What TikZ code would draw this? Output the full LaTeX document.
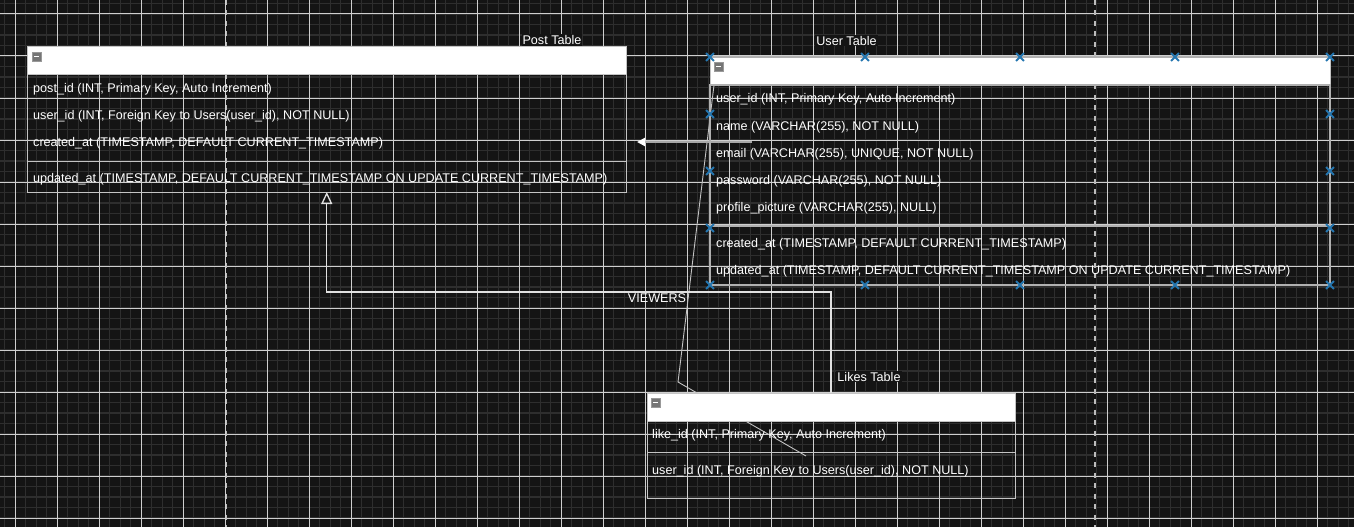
\documentclass[tikz,border=0pt]{standalone}
\usepackage{fontspec}
\setmainfont{Liberation Sans}
\usetikzlibrary{arrows.meta,shapes.misc,calc}
\definecolor{bg}{HTML}{141414}
\definecolor{minorc}{HTML}{2E2E2E}
\definecolor{majorc}{HTML}{CFCFCF}
\definecolor{pagec}{HTML}{BDBDBD}
\definecolor{tblc}{HTML}{C4C4C4}
\definecolor{tblu}{HTML}{B0B0B0}
\definecolor{bluec}{HTML}{2476B0}
\definecolor{arrc}{HTML}{A8A8A8}
\definecolor{iconc}{HTML}{767676}
\tikzset{
  minorline/.style={draw=minorc,line width=1.2pt},
  majorline/.style={draw=majorc,line width=1pt},
  pageline/.style={draw=pagec,line width=1.5pt,dash pattern=on 5pt off 5.5pt},
  hdr/.style={draw=tblc,fill=white,line width=1pt,anchor=north west,inner sep=0pt,outer sep=0pt},
  tbody/.style={draw=tblc,line width=1pt,anchor=north west,inner sep=0pt,outer sep=0pt},
  tsep/.style={draw=tblc,line width=1pt},
  ubody/.style={draw=tblu,line width=1.6pt,anchor=north west,inner sep=0pt,outer sep=0pt},
  usep/.style={draw=tblu,line width=1.6pt},
  rowtext/.style={anchor=west,text=white,inner sep=0pt,font=\fontsize{12.6}{15}\selectfont,text height=9.5pt,text depth=2.6pt},
  tlabel/.style={text=white,fill=bg,inner sep=1pt,font=\fontsize{12.6}{15}\selectfont},
  elabel/.style={text=white,inner sep=0pt,font=\fontsize{12.6}{15}\selectfont},
  icon/.style={draw=gray!80,fill=iconc,minimum size=9pt,inner sep=0pt,line width=0.6pt},
  bmark/.style={cross out,draw=bluec,line width=1.8pt,minimum size=6pt,inner sep=0pt},
  thinline/.style={draw=tblc,line width=0.9pt},
  relarrow/.style={draw=arrc,line width=2pt,-{Triangle[width=8pt,length=8pt,color=white]}},
  viewer/.style={draw=white!88!black,line width=1.3pt,-{Triangle[open,width=11pt,length=12pt]}}
}
\begin{document}
\begin{tikzpicture}[x=1pt,y=-1pt]
\useasboundingbox (0,0) rectangle (1354,527);
\begin{scope}
\clip (0,0) rectangle (1354,527);
\fill[bg] (0,0) rectangle (1354,527);
\foreach \i in {0,...,128} \draw[minorline] ({4.8+10.5*\i},0) -- ({4.8+10.5*\i},527);
\foreach \j in {0,...,50} \draw[minorline] (0,{3.5+10.5*\j}) -- (1354,{3.5+10.5*\j});
\foreach \i in {0,...,32} \draw[majorline] ({15.3+42*\i},0) -- ({15.3+42*\i},527);
\foreach \j in {0,...,12} \draw[majorline] (0,{14+42*\j}) -- (1354,{14+42*\j});
\draw[pageline] (226.7,0) -- (226.7,527);
\draw[pageline] (1095,0) -- (1095,527);
\end{scope}

% slanted thin line (behind tables)
\coordinate (s1) at (714,85);
\coordinate (s2) at (678,382);
\coordinate (s3) at (806,456);
\draw[thinline] (s1) -- (s2) -- (s3);

% ---------- Post Table ----------
\node[hdr,minimum width=598.5pt,minimum height=27pt] (postH) at (27.5,47) {};
\node[tbody,minimum width=598.5pt,minimum height=118pt] (postB) at (27.5,74) {};
\draw[tsep] (27.5,161) -- (626,161);
\node[icon] (postI) at (36.5,56.5) {};
\draw[white,line width=1.2pt] ($(postI.center)+(-2.5,0)$) -- ($(postI.center)+(2.5,0)$);
\node[tlabel] (postL) at (552,40) {Post Table};
\node[rowtext] (p1) at (33,89.5) {post\_id (INT, Primary Key, Auto Increment)};
\node[rowtext] (p2) at (33,116.5) {user\_id (INT, Foreign Key to Users(user\_id), NOT NULL)};
\node[rowtext] (p3) at (33,143.5) {created\_at (TIMESTAMP, DEFAULT CURRENT\_TIMESTAMP)};
\node[rowtext] (p4) at (33,179) {updated\_at (TIMESTAMP, DEFAULT CURRENT\_TIMESTAMP ON UPDATE CURRENT\_TIMESTAMP)};

% ---------- connectors ----------
\coordinate (ustart) at (752,142);
\coordinate (ptip) at ($(postB.east |- ustart)+(11,0)$);
\draw[relarrow] (ustart) -- (ptip);

% ---------- User Table ----------
\node[hdr,minimum width=620pt,minimum height=28pt] (userH) at (710,57) {};
\node[ubody,minimum width=620pt,minimum height=200pt] (userB) at (710,85) {};
\draw[usep] (710,57) -- (1330,57);
\draw[usep] (710,226) -- (1330,226);
\node[icon] (userI) at (718.3,66.7) {};
\draw[white,line width=1.2pt] ($(userI.center)+(-2.5,0)$) -- ($(userI.center)+(2.5,0)$);
\node[tlabel] (userL) at (846.5,40.5) {User Table};
\node[rowtext] (u1) at (716,99.5) {user\_id (INT, Primary Key, Auto Increment)};
\node[rowtext] (u2) at (716,127) {name (VARCHAR(255), NOT NULL)};
\node[rowtext] (u3) at (716,154) {email (VARCHAR(255), UNIQUE, NOT NULL)};
\node[rowtext] (u4) at (716,181) {password (VARCHAR(255), NOT NULL)};
\node[rowtext] (u5) at (716,208) {profile\_picture (VARCHAR(255), NULL)};
\node[rowtext] (u6) at (716,244) {created\_at (TIMESTAMP, DEFAULT CURRENT\_TIMESTAMP)};
\node[rowtext] (u7) at (716,271) {updated\_at (TIMESTAMP, DEFAULT CURRENT\_TIMESTAMP ON UPDATE CURRENT\_TIMESTAMP)};
\foreach \k [count=\n] in {0,...,4} {
  \node[bmark] (mt\n) at ({710+155*\k},57) {};
  \node[bmark] (mb\n) at ({710+155*\k},285) {};
}
\foreach \yy [count=\n] in {114,171,228} {
  \node[bmark] (ml\n) at (710,\yy) {};
  \node[bmark] (mr\n) at (1330,\yy) {};
}

% ---------- Likes Table ----------
\node[hdr,minimum width=368pt,minimum height=28pt] (likesH) at (647,393) {};
\node[tbody,minimum width=368pt,minimum height=77.5pt] (likesB) at (647,421) {};
\draw[tsep] (647,452.5) -- (1015,452.5);
\node[icon] (likesI) at (655.5,402.7) {};
\draw[white,line width=1.2pt] ($(likesI.center)+(-2.5,0)$) -- ($(likesI.center)+(2.5,0)$);
\node[tlabel] (likesL) at (869,376.5) {Likes Table};
\node[rowtext] (l1) at (652,435.5) {like\_id (INT, Primary Key, Auto Increment)};
\node[rowtext] (l2) at (652,471) {user\_id (INT, Foreign Key to Users(user\_id), NOT NULL)};

% VIEWERS connector
\draw[viewer] (likesH.north) -- ++(0,-101) -| (postB.south);
\node[elabel] (vlab) at (657,298) {VIEWERS};
\end{tikzpicture}
\end{document}
